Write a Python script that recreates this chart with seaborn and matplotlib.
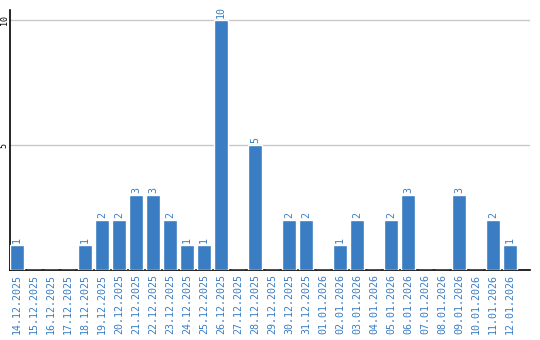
import matplotlib
matplotlib.use("Agg")
import matplotlib.pyplot as plt
import seaborn as sns
import pandas as pd

dates = ["14.12.2025", "15.12.2025", "16.12.2025", "17.12.2025", "18.12.2025",
         "19.12.2025", "20.12.2025", "21.12.2025", "22.12.2025", "23.12.2025",
         "24.12.2025", "25.12.2025", "26.12.2025", "27.12.2025", "28.12.2025",
         "29.12.2025", "30.12.2025", "31.12.2025", "01.01.2026", "02.01.2026",
         "03.01.2026", "04.01.2026", "05.01.2026", "06.01.2026", "07.01.2026",
         "08.01.2026", "09.01.2026", "10.01.2026", "11.01.2026", "12.01.2026"]
values = [1, 0, 0, 0, 1, 2, 2, 3, 3, 2, 1, 1, 10, 0, 5, 0, 2, 2, 0, 1, 2, 0, 2, 3, 0, 0, 3, 0, 2, 1]
yticks = [5, 10]

df = pd.DataFrame({"date": dates, "value": values})

sns.set_style("white")
plt.rcParams['font.family'] = ['DejaVu Sans Mono', 'DejaVu Sans']

blue = "#3a7dc3"
fig = plt.figure(figsize=(5.4, 3.4), dpi=100)
ax = fig.add_axes([10/540, 1 - 270/340, 520/540, 260/340])
sns.barplot(data=df, x="date", y="value", color=blue, width=0.82, saturation=1, ax=ax, zorder=3)

ax.set_xlim(-0.41, 30.18)
ax.set_ylim(0, 10.4)
ax.set_yticks(yticks)
ax.set_yticklabels([str(v) for v in yticks], rotation=90, va="center", fontsize=6, color="black")
ax.yaxis.grid(True, color="#c8c8c8", linewidth=1, zorder=0)
ax.tick_params(axis="y", length=0, pad=1)
ax.tick_params(axis="x", length=0, pad=3)
ax.set_xticks(range(len(dates)))
ax.set_xticklabels(dates, rotation=90, fontsize=7.2, color=blue)
ax.set_xlabel("")
ax.set_ylabel("")

for s in ["top", "right"]:
    ax.spines[s].set_visible(False)
ax.spines["left"].set_color("black")
ax.spines["bottom"].set_color("black")
ax.spines["left"].set_linewidth(1.2)
ax.spines["bottom"].set_linewidth(1.2)

for i, v in enumerate(values):
    if v > 0:
        ax.text(i, v + 0.08, str(v), rotation=90, ha="center", va="bottom", fontsize=7.2, color=blue)

fig.savefig("out.png", dpi=100)
